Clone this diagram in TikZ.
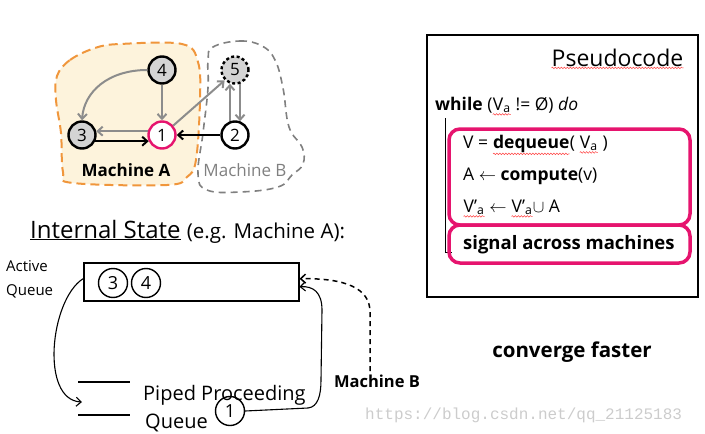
\documentclass[tikz,border=0pt]{standalone}
\usepackage{fontspec}
\setmainfont{Open Sans}
\newfontfamily\urlfont{Liberation Mono}
\usetikzlibrary{arrows.meta,decorations.pathmorphing}

\definecolor{edgegray}{RGB}{140,140,140}
\definecolor{nodegray}{RGB}{212,212,212}
\definecolor{hotpink}{RGB}{230,20,110}
\definecolor{regorange}{RGB}{240,150,60}
\definecolor{regcream}{RGB}{253,243,220}

\tikzset{
  vnode/.style={circle, draw, line width=2.4pt, minimum size=27pt, inner sep=0pt, font=\fontsize{17}{17}\selectfont},
  gedge/.style={color=edgegray, line width=2pt, -{Straight Barb[length=5pt,width=9pt]}},
  bedge/.style={color=black, line width=2pt, -{Straight Barb[length=5pt,width=9pt]}},
  qnode/.style={circle, draw, line width=1.4pt, minimum size=29pt, inner sep=0pt, font=\fontsize{18}{18}\selectfont},
  flow/.style={line width=1.1pt, -{Straight Barb[length=5pt,width=9pt]}},
  hbox/.style={draw=hotpink, line width=3.5pt, rounded corners=11pt},
  code/.style={anchor=base west, inner sep=0pt, font=\fontsize{17.5}{17.5}\selectfont},
  squig/.style={draw=red!75, line width=0.5pt, decorate, decoration={snake, amplitude=0.8pt, segment length=3pt}}
}

\newcommand{\squigword}[1]{\tikz[baseline=(sw.base)]{\node[inner sep=0pt, anchor=base] (sw) {#1}; \draw[squig] ([yshift=-1.5pt]sw.south west) -- ([yshift=-1.5pt]sw.south east);}}

\begin{document}
\begin{tikzpicture}[x=1pt,y=-1pt]
\useasboundingbox (0,0) rectangle (705,434);

% Machine A region
\filldraw[fill=regcream, draw=regorange, line width=2pt, dash pattern=on 9pt off 5pt]
  plot[smooth cycle, tension=0.6] coordinates {(57,76) (70,60) (95,48) (120,44) (182,44) (198,62) (200,100) (196,160) (187,177) (167,185) (73,183) (63,172) (61,133) (56,100)};

% Machine B region
\draw[draw=gray, line width=1.6pt, dash pattern=on 7pt off 5pt]
  plot[smooth cycle, tension=0.7] coordinates {(213,47) (240,41) (262,46) (275,60) (283,88) (289,127) (302,147) (303,164) (292,175) (278,187) (240,192) (207,190) (198,174) (203,133) (208,88) (208,60)};

% Vertices
\node[vnode, fill=nodegray] (v4) at (162,70) {4};
\node[vnode, fill=nodegray, dash pattern=on 3pt off 2.5pt] (v5) at (235,70) {5};
\node[vnode, fill=nodegray] (v3) at (82,135) {3};
\node[vnode, fill=white, draw=hotpink] (v1) at (162,135) {1};
\node[vnode, fill=white] (v2) at (235,135) {2};

% Edges
\draw[gedge] (v4) -- (v1);
\draw[gedge] (v4.west) .. controls (108,70) and (84,92) .. (v3.north);
\draw[gedge] (v1.165) -- (v3.15);
\draw[bedge] (v3.-25) -- (v1.205);
\draw[bedge] (v2) -- (v1);
\draw[gedge] (v1.40) -- (v5.225);
\draw[gedge] (v2.110) -- (v5.250);
\draw[gedge] (v5.-70) -- (v2.70);

% Machine labels
\node[font=\bfseries\fontsize{17}{17}\selectfont] (labA) at (126,170) {Machine A};
\node[font=\fontsize{17}{17}\selectfont, text=gray] (labB) at (245,170) {Machine B};

% Pseudocode box
\draw[line width=1.5pt] (427,35) rectangle (698,297);
\node[anchor=base east, inner sep=0pt, font=\fontsize{23}{23}\selectfont] (pseudo) at (684,66) {\squigword{Pseudocode}};
\node[code] (lwhile) at (435,110) {\textbf{while} (\squigword{V\textsubscript{a}} != Ø) \textit{do}};
\node[code] (ldeq) at (463,148) {V = \textbf{\squigword{dequeue}}( \squigword{V\textsubscript{a}} )};
\node[code] (lcomp) at (463,180) {A $\leftarrow$ \textbf{compute}(v)};
\node[code] (lunion) at (463,212) {\squigword{V’\textsubscript{a}} $\leftarrow$ \squigword{V’\textsubscript{a}}$\cup$ A};
\node[code, font=\bfseries\fontsize{18.5}{18.5}\selectfont] (lsig) at (463,249) {signal across machines};
\draw[line width=0.6pt] (445,118) -- (445,252) -- (452,252);
\draw[hbox] (449,129) rectangle (690,225);
\draw[hbox] (449,225) rectangle (690,263);

% Internal state
\node[anchor=base west, inner sep=0pt, font=\fontsize{24}{24}\selectfont] (istate) at (30,238) {\underline{Internal State} {\fontsize{20.5}{20.5}\selectfont (e.g. Machine A):}};
\node[anchor=north west, align=left, inner sep=0pt, font=\fontsize{15}{24}\selectfont] (aq) at (6,260) {Active\\Queue};
\node[draw, line width=1.5pt, minimum width=215pt, minimum height=38pt, anchor=north west, inner sep=0pt] (aqbox) at (83,262) {};
\node[qnode] (q3) at (113,283) {3};
\node[qnode] (q4) at (146,283) {4};

% Piped queue
\draw[line width=1.5pt] (78,382) -- (130,382);
\draw[line width=1.5pt] (78,415) -- (130,415);
\coordinate (pin) at (82,402);
\node[anchor=base west, inner sep=0pt, font=\fontsize{20}{20}\selectfont] (piped) at (143,400) {Piped Proceeding};
\node[anchor=base west, inner sep=0pt, font=\fontsize{20}{20}\selectfont] (pqueue) at (145,428) {Queue};
\node[qnode] (p1) at (230,411) {1};

% Flows
\draw[flow] ([yshift=3pt]aqbox.west) .. controls (50,300) and (40,400) .. (pin);
\draw[flow] (p1.east) -- (308,408) .. controls (318,407) and (321,395) .. (321,380) -- (322,310) .. controls (322,292) and (313,286) .. ([yshift=-5pt]aqbox.east);
\node[font=\bfseries\fontsize{16.5}{16.5}\selectfont] (mb) at (377,381) {Machine B};
\draw[flow, dash pattern=on 5pt off 4pt, line width=1.5pt] ([xshift=-7pt]mb.north) -- (370,312) .. controls (370,288) and (345,278) .. ([yshift=3pt]aqbox.east);

% Other labels
\node[font=\bfseries\fontsize{20.5}{20.5}\selectfont] (conv) at (572,352) {converge faster};
\node[anchor=base west, inner sep=0pt, font=\urlfont\fontsize{16}{16}\selectfont, text=gray!40] (wm) at (365,419) {https://blog.csdn.net/qq\_21125183};

\end{tikzpicture}
\end{document}
